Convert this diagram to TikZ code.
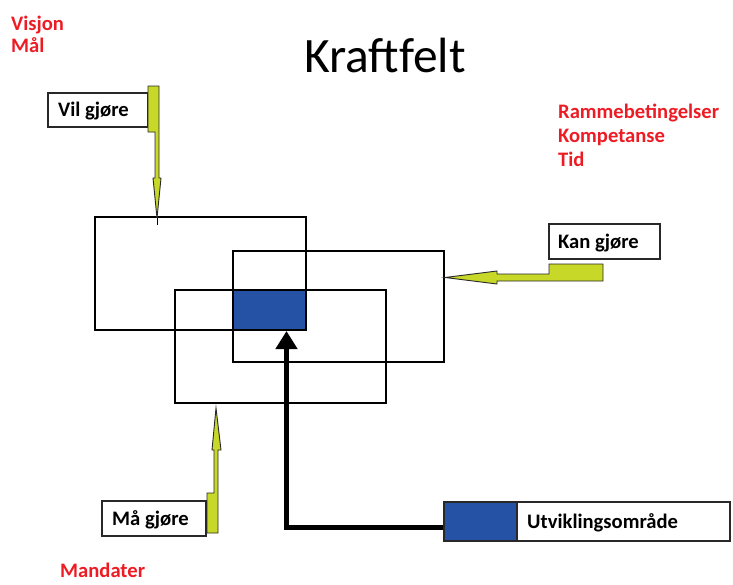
\documentclass[tikz,border=0pt]{standalone}
\usepackage{fontspec}
\setmainfont{Carlito}
\usetikzlibrary{arrows.meta,calc}
\definecolor{fieldblue}{RGB}{37,82,164}
\definecolor{arrowgreen}{RGB}{200,216,40}
\definecolor{labelred}{RGB}{237,28,36}
\definecolor{edgegray}{RGB}{40,40,40}
\tikzset{
  field/.style={draw=black,line width=2pt,minimum width=211pt,inner sep=0pt},
  labelbox/.style={draw=edgegray,line width=1.2pt,fill=white,inner sep=0pt},
  labeltext/.style={font=\fontsize{20.6}{24}\selectfont\bfseries,anchor=base west,inner sep=0pt},
  redtext/.style={labeltext,text=labelred},
  greenarrow/.style={fill=arrowgreen,draw=edgegray,line width=0.9pt,line join=miter},
}
\begin{document}
\begin{tikzpicture}[x=1pt,y=-1pt]
\useasboundingbox (0,0) rectangle (733,584);
% title
\node[anchor=base west,inner sep=0pt,font=\fontsize{49.5}{56}\selectfont] (title) at (304,72) {Kraftfelt};
% red labels
\node[redtext] (visjon) at (11,30) {Visjon};
\node[redtext] (maal) at (11,52) {Mål};
\node[redtext] (ramme) at (558,118) {Rammebetingelser};
\node[redtext] (komp) at (558,142) {Kompetanse};
\node[redtext] (tid) at (558,166) {Tid};
\node[redtext] (mandater) at (60,577) {Mandater};
% three fields
\node[field,minimum height=113pt] (vil) at (200.5,273.5) {};
\node[field,minimum height=111pt] (kan) at (338.5,306.5) {};
\node[field,minimum height=113pt] (maa) at (280.5,346.5) {};
\node[draw=black,line width=2pt,fill=fieldblue,minimum width=73pt,minimum height=40pt,inner sep=0pt] (core) at (269.5,310) {};
% label boxes
\node[labelbox,minimum width=100pt,minimum height=34pt] (vilbox) at (98,110) {};
\node[labeltext] (viltext) at (58,116) {Vil gjøre};
\node[labelbox,minimum width=111pt,minimum height=35pt] (kanbox) at (604.5,241.5) {};
\node[labeltext] (kantext) at (558,248) {Kan gjøre};
\node[labelbox,minimum width=104pt,minimum height=35pt] (maabox) at (154,518.5) {};
\node[labeltext] (maatext) at (112,525) {Må gjøre};
\node[labelbox,minimum width=213pt,minimum height=39pt] (utvbox) at (623.5,521.5) {};
\node[labeltext] (utvtext) at (527,528) {Utviklingsområde};
\node[draw=edgegray,line width=1.2pt,fill=fieldblue,minimum width=73pt,minimum height=39pt,inner sep=0pt] (utvblue) at (480.5,521.5) {};
% green arrows
\draw[greenarrow] (148,86) -- (159,86) -- (159,178) -- (161,178) -- (157,218) -- (153,178) -- (155,178) -- (155,132) -- (148,132) -- cycle;
\draw[line width=0.9pt] (157,218) -- (157,225);
\draw[greenarrow] (603,264) -- (603,281) -- (497,281) -- (497,284) -- (445,277.5) -- (497,271) -- (497,274) -- (549,274) -- (549,264) -- cycle;
\draw[greenarrow] (207,533) -- (218,533) -- (218,450) -- (221,450) -- (216,408) -- (212,450) -- (214,450) -- (214,493) -- (207,493) -- cycle;
% development arrow
\draw[line width=5pt,-{Triangle[width=21pt,length=18pt]}] ([yshift=-5.5pt]utvblue.west) -| ([xshift=17pt]core.south);
\end{tikzpicture}
\end{document}
